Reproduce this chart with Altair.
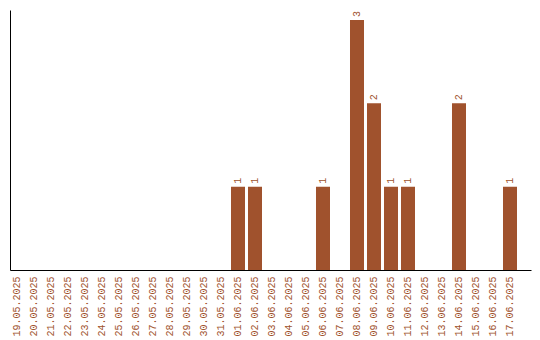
import altair as alt
import pandas as pd

dates = [
    "19.05.2025", "20.05.2025", "21.05.2025", "22.05.2025", "23.05.2025",
    "24.05.2025", "25.05.2025", "26.05.2025", "27.05.2025", "28.05.2025",
    "29.05.2025", "30.05.2025", "31.05.2025", "01.06.2025", "02.06.2025",
    "03.06.2025", "04.06.2025", "05.06.2025", "06.06.2025", "07.06.2025",
    "08.06.2025", "09.06.2025", "10.06.2025", "11.06.2025", "12.06.2025",
    "13.06.2025", "14.06.2025", "15.06.2025", "16.06.2025", "17.06.2025",
]
counts = [0, 0, 0, 0, 0, 0, 0, 0, 0, 0, 0, 0, 0, 1, 1,
          0, 0, 0, 1, 0, 3, 2, 1, 1, 0, 0, 2, 0, 0, 1]

df = pd.DataFrame({"date": dates, "count": counts})

COLOR = "#a0522d"
FONT = "Liberation Mono"

x = alt.X(
    "date:O",
    sort=dates,
    scale=alt.Scale(paddingInner=3 / 17, paddingOuter=0.4118, align=0),
    axis=alt.Axis(
        title=None,
        labelAngle=-90,
        labelFont=FONT,
        labelFontSize=10,
        labelColor=COLOR,
        ticks=False,
        tickSize=0,
        labelPadding=6,
        domainColor="black",
        domainWidth=1,
        grid=False,
    ),
)
y = alt.Y(
    "count:Q",
    scale=alt.Scale(domain=[0, 3.12], nice=False),
    axis=alt.Axis(
        title=None,
        labels=False,
        ticks=False,
        grid=False,
        domainColor="black",
        domainWidth=1,
    ),
)

base = alt.Chart(df)
bars = base.mark_bar(color=COLOR).encode(x=x, y=y)
labels = base.transform_filter(alt.datum["count"] > 0).mark_text(
    angle=270,
    align="left",
    baseline="middle",
    dx=3,
    font=FONT,
    fontSize=10,
    color=COLOR,
).encode(x=x, y=y, text="count:Q")

chart = (
    alt.layer(bars, labels)
    .properties(
        width=521,
        height=260,
        autosize=alt.AutoSizeParams(type="none"),
        padding={"left": 10, "top": 10, "right": 9, "bottom": 70},
        background="white",
    )
    .configure_view(stroke=None)
)

chart.save("out.html", embed_options={"renderer": "svg", "actions": False})
